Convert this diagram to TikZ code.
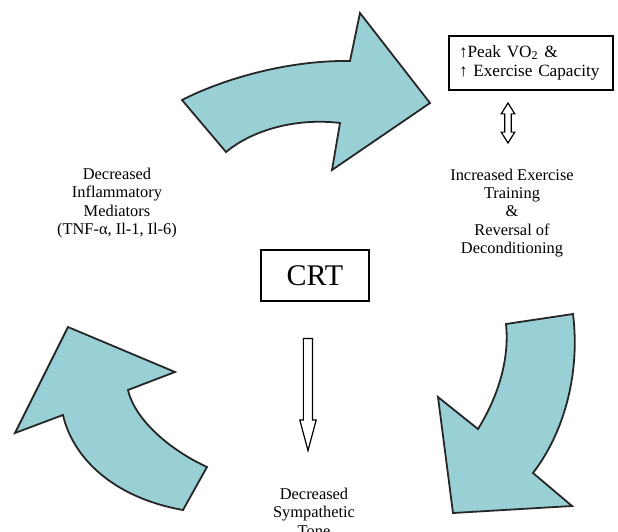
\documentclass[tikz,border=0pt]{standalone}
\usepackage{fontspec}
\setmainfont{Liberation Serif}
\usetikzlibrary{shapes.arrows}
\definecolor{crtteal}{RGB}{152,208,214}

\begin{document}
\begin{tikzpicture}[x=0.5pt,y=-0.5pt,
  curvearrow/.style={draw=black!85, fill=crtteal, line width=0.9pt, line join=miter},
  lbl/.style={align=center, font=\fontsize{8.2}{9.2}\selectfont},
  hollow/.style={draw, line width=0.6pt, inner xsep=0pt}]

 \useasboundingbox (0,0) rectangle (618,532);

 % the three curved block arrows
 \draw[curvearrow] (182,100) .. controls (225,78) and (290,60) .. (350,61)
   -- (360,13) -- (430,103) -- (332,170) -- (340,123)
   .. controls (300,118) and (255,128) .. (226,152) -- cycle;
 \draw[curvearrow] (506,324) -- (573,314) .. controls (580,370) and (566,430) .. (533,473)
   -- (572,506) -- (453,513) -- (438,397) -- (478,429)
   .. controls (496,400) and (510,362) .. (506,324) -- cycle;
 \draw[curvearrow] (183,510) -- (207,467) .. controls (170,450) and (135,420) .. (128,390)
   -- (175,372) -- (68,327) -- (15,433) -- (63,415)
   .. controls (72,455) and (110,497) .. (183,510) -- cycle;

 \node[draw, line width=0.7pt, inner xsep=5pt, text width=72pt, minimum height=27pt,
   align=left, font=\fontsize{8.6}{9.6}\selectfont] (peak) at (531,63)
   {↑Peak VO\textsubscript{2} \&\\↑ Exercise Capacity};
 \node[hollow, double arrow, rotate=90, minimum height=20pt, inner ysep=1.3pt,
   double arrow head extend=1.8pt, double arrow tip angle=64] (both) at (508,123) {};
 \node[lbl] (train) at (512,213)
   {Increased Exercise\\Training\\\&\\Reversal of\\Deconditioning};

 \node[lbl] (inflam) at (117,203)
   {Decreased\\Inflammatory\\Mediators\\(TNF-α, Il-1, Il-6)};

 \node[draw, line width=0.7pt, minimum width=54pt, minimum height=25.5pt,
   font=\fontsize{15}{16}\selectfont] (crt) at (315,275.5) {CRT};
 \node[hollow, single arrow, rotate=-90, minimum height=56pt, inner ysep=2pt,
   single arrow head extend=1.8pt, single arrow tip angle=30] (down) at (308,386) {};
 \node[lbl] (symp) at (314,512) {Decreased\\Sympathetic\\Tone};

\end{tikzpicture}
\end{document}
